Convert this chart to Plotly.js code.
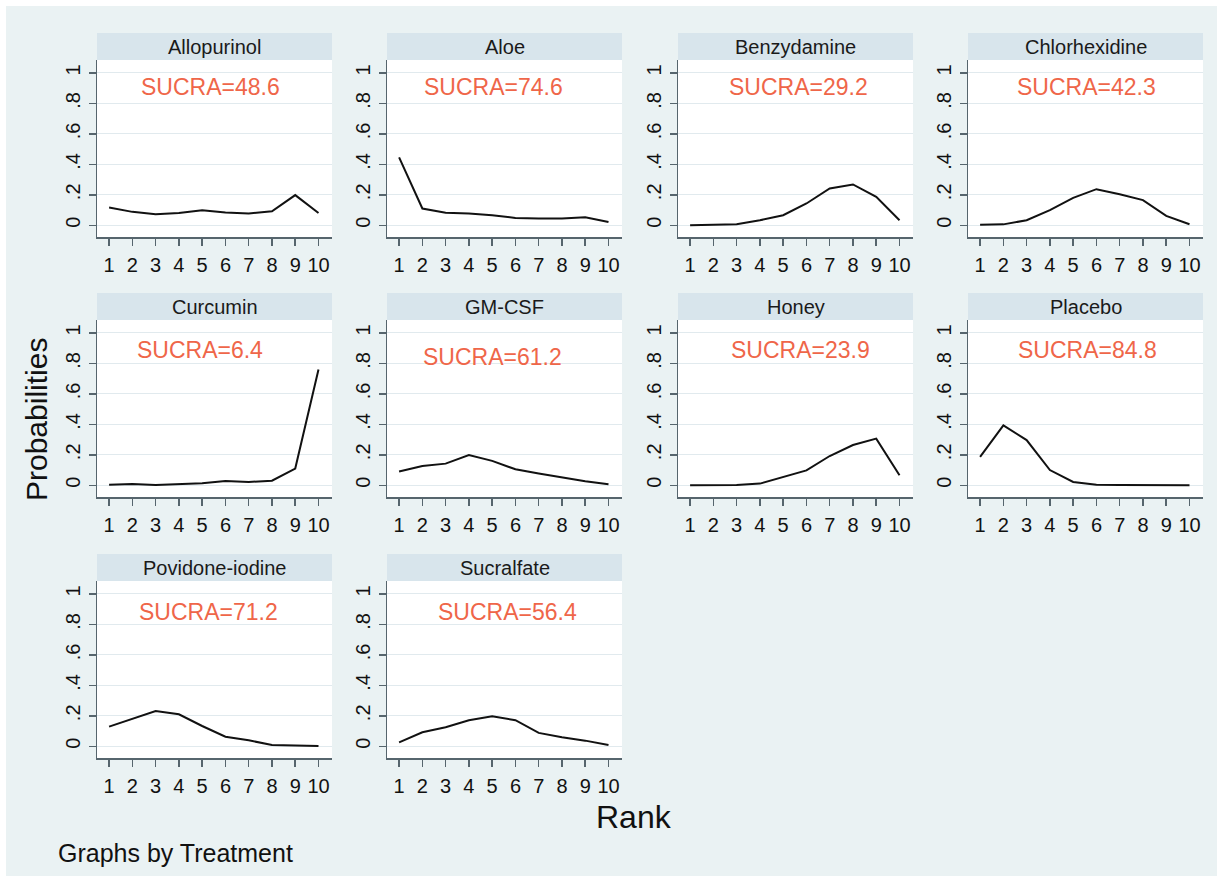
<!DOCTYPE html>
<html>
<head>
<meta charset="utf-8">
<script src="https://cdn.plot.ly/plotly-3.0.1.min.js"></script>
<style>
html,body{margin:0;padding:0;background:#ffffff;}
#chart{width:1223px;height:882px;}
</style>
</head>
<body>
<div id="chart"></div>
<script>
// ---------------- DATA ----------------
const treatments = ["Allopurinol","Aloe","Benzydamine","Chlorhexidine","Curcumin","GM-CSF","Honey","Placebo","Povidone-iodine","Sucralfate"];
const ranks = [1,2,3,4,5,6,7,8,9,10];
const sucra = [48.6, 74.6, 29.2, 42.3, 6.4, 61.2, 23.9, 84.8, 71.2, 56.4];

const allopurinol   = [0.116,0.088,0.073,0.081,0.099,0.084,0.077,0.092,0.198,0.081];
const aloe          = [0.446,0.110,0.083,0.077,0.066,0.048,0.044,0.044,0.053,0.022];
const benzydamine   = [0.000,0.002,0.007,0.033,0.066,0.143,0.242,0.268,0.187,0.033];
const chlorhexidine = [0.004,0.006,0.033,0.099,0.180,0.237,0.204,0.165,0.062,0.007];
const curcumin      = [0.003,0.008,0.002,0.007,0.013,0.028,0.022,0.030,0.110,0.760];
const gmcsf         = [0.090,0.127,0.142,0.199,0.160,0.105,0.077,0.050,0.026,0.007];
const honey         = [0.000,0.001,0.002,0.011,0.055,0.098,0.192,0.264,0.306,0.066];
const placebo       = [0.186,0.393,0.297,0.100,0.022,0.004,0.001,0.000,0.000,0.000];
const povidone      = [0.129,0.179,0.231,0.210,0.133,0.063,0.039,0.009,0.004,0.001];
const sucralfate    = [0.026,0.092,0.125,0.171,0.197,0.171,0.088,0.059,0.037,0.009];

const seriesList = [allopurinol,aloe,benzydamine,chlorhexidine,curcumin,gmcsf,honey,placebo,povidone,sucralfate];

const yTickVals = [0,0.2,0.4,0.6,0.8,1];
const yTickText = ["0",".2",".4",".6",".8","1"];

// ---------------- LAYOUT CONFIG ----------------
const W = 1223, H = 882;
const colLeft = [97,387,678,968];
const panelW = 235;
const rowTop = [60,320,581];
const rowBottom = [237,497,758];
const headerH = 27;
// SUCRA label anchor (in each panel's data coordinates)
const labelX = [5.35,5.05,5.65,5.57,4.9,5.0,5.74,5.6,5.27,5.66];
const labelY = [0.91,0.91,0.91,0.91,0.89,0.84,0.89,0.89,0.88,0.88];

const FONT = "Liberation Sans, Arial, Helvetica, sans-serif";
const axisColor = "#56656d";
const gridColor = "#e1eaee";
const headerColor = "#d8e5ec";
const bgColor = "#eaf2f3";
const sucraColor = "#ef6649";

const traces = [];
const layout = {
  width: W, height: H,
  margin: {l:0,r:0,t:0,b:0,pad:0},
  paper_bgcolor: bgColor,
  plot_bgcolor: "#ffffff",
  showlegend: false,
  font: {family: FONT, color: "#111111"},
  shapes: [],
  annotations: []
};

treatments.forEach((name, i) => {
  const r = Math.floor(i/4), c = i % 4;
  const n = i === 0 ? "" : String(i+1);
  const x0 = colLeft[c]/W, x1 = (colLeft[c]+panelW)/W;
  const yb = 1 - rowBottom[r]/H, yt = 1 - rowTop[r]/H;

  traces.push({
    type: "scatter", mode: "lines",
    x: ranks, y: seriesList[i],
    xaxis: "x"+n, yaxis: "y"+n,
    line: {color: "#111111", width: 2},
    hoverinfo: "x+y"
  });

  layout["xaxis"+n] = {
    domain: [x0, x1], anchor: "y"+n,
    range: [0.48, 10.58],
    tickvals: ranks,
    ticks: "outside", ticklen: 7, tickwidth: 1.5, tickcolor: axisColor,
    showline: true, linecolor: axisColor, linewidth: 1.5,
    showgrid: false, zeroline: false,
    tickfont: {family: FONT, size: 20, color: "#111111"},
    ticklabelstandoff: 2,
    fixedrange: true
  };
  layout["yaxis"+n] = {
    domain: [yb, yt], anchor: "x"+n,
    range: [-0.077, 1.085],
    tickvals: yTickVals, ticktext: yTickText,
    tickangle: -90,
    ticks: "outside", ticklen: 7, tickwidth: 1.5, tickcolor: axisColor,
    showline: true, linecolor: axisColor, linewidth: 1.5,
    showgrid: true, gridcolor: gridColor, gridwidth: 1,
    zeroline: false,
    tickfont: {family: FONT, size: 20, color: "#111111"},
    ticklabelstandoff: 1,
    fixedrange: true
  };

  // header band
  layout.shapes.push({
    type: "rect", xref: "paper", yref: "paper",
    x0: x0, x1: x1, y0: yt, y1: 1 - (rowTop[r]-headerH)/H,
    fillcolor: headerColor, line: {width: 0}, layer: "above"
  });
  layout.annotations.push({
    xref: "paper", yref: "paper",
    x: (x0+x1)/2, y: 1 - (rowTop[r]-headerH/2)/H,
    text: name, showarrow: false,
    xanchor: "center", yanchor: "middle",
    font: {family: FONT, size: 20, color: "#1a1a1a"}
  });
  // SUCRA label
  layout.annotations.push({
    xref: "x"+n, yref: "y"+n,
    x: labelX[i], y: labelY[i],
    text: "SUCRA=" + sucra[i].toFixed(1),
    showarrow: false, xanchor: "center", yanchor: "middle",
    font: {family: FONT, size: 23, color: sucraColor}
  });
});

// overall titles
layout.annotations.push({
  xref: "paper", yref: "paper", x: 36/W, y: 1 - 420/H,
  text: "Probabilities", textangle: -90, showarrow: false,
  xanchor: "center", yanchor: "middle",
  font: {family: FONT, size: 30, color: "#111111"}
});
layout.annotations.push({
  xref: "paper", yref: "paper", x: 634/W, y: 1 - 817/H,
  text: "Rank", showarrow: false,
  xanchor: "center", yanchor: "middle",
  font: {family: FONT, size: 32, color: "#111111"}
});
layout.annotations.push({
  xref: "paper", yref: "paper", x: 56/W, y: 1 - 853/H,
  text: "Graphs by Treatment", showarrow: false,
  xanchor: "left", yanchor: "middle",
  font: {family: FONT, size: 25, color: "#111111"}
});

// white outer border
layout.shapes.push({
  type: "rect", xref: "paper", yref: "paper",
  x0: 0, x1: 1, y0: 0, y1: 1,
  line: {color: "#ffffff", width: 12}, fillcolor: "rgba(0,0,0,0)", layer: "above"
});

Plotly.newPlot("chart", traces, layout, {displayModeBar: false, staticPlot: true});
</script>
</body>
</html>
